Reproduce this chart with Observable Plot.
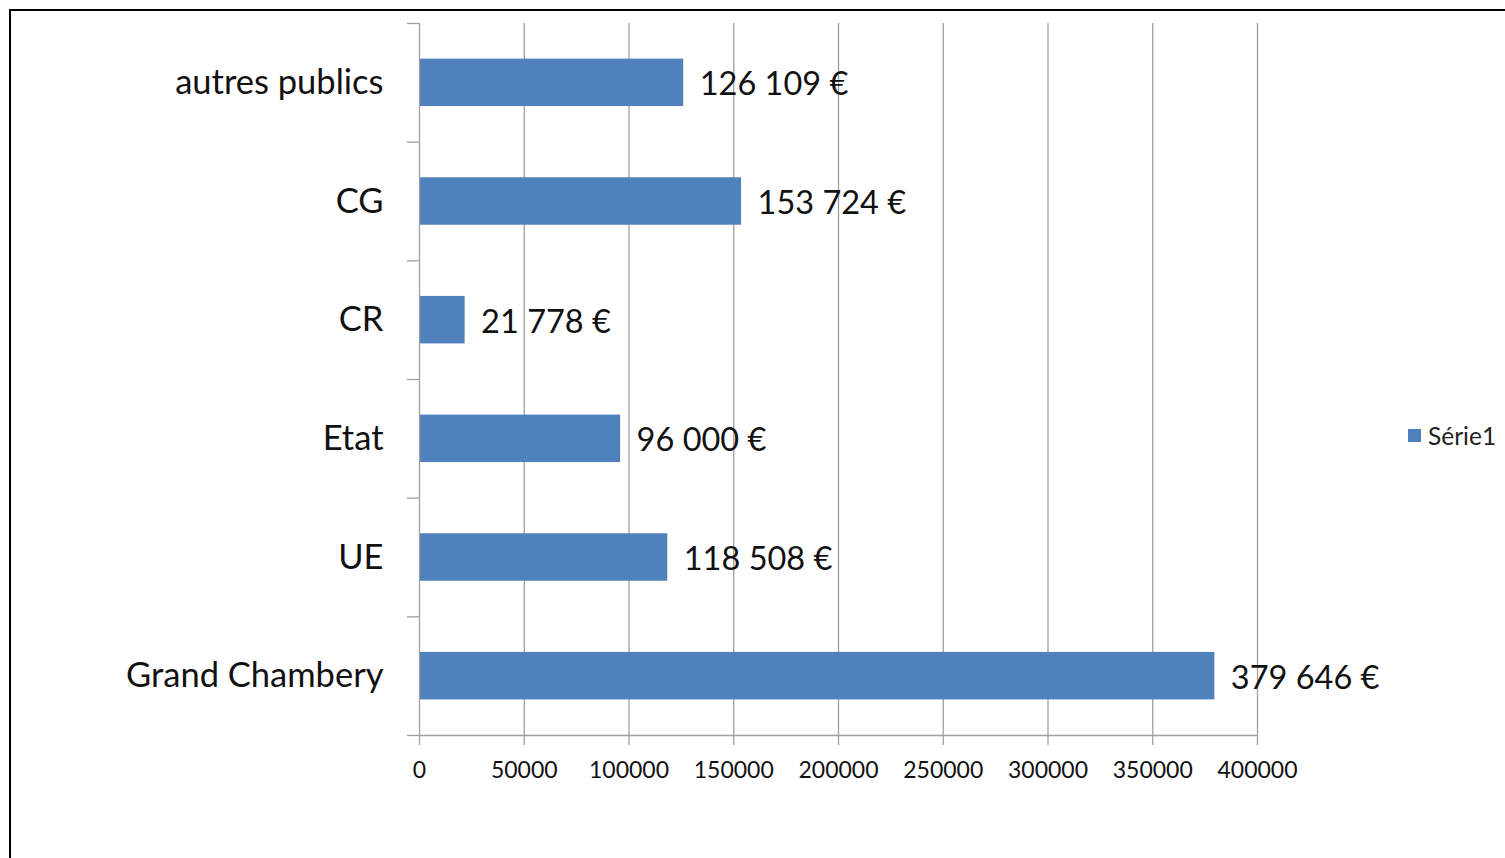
<!DOCTYPE html>
<html>
<head>
<meta charset="utf-8">
<script src="https://cdn.jsdelivr.net/npm/d3@7"></script>
<script src="https://cdn.jsdelivr.net/npm/@observablehq/plot@0.6"></script>
<style>
  html, body { margin: 0; padding: 0; background: #fff; overflow: hidden; }
  #wrap { position: relative; width: 1505px; height: 858px; overflow: hidden; }
  #frame { position: absolute; left: 9px; top: 9px; width: 1520px; height: 880px; border: 2px solid #000; box-sizing: border-box; pointer-events: none; }
  #legend { position: absolute; left: 1408px; top: 421px; font-family: Lato, sans-serif; font-size: 24.5px; color: #222; display: flex; align-items: center; }
  #legend .sw { width: 13px; height: 13px; background: #4f81bd; margin-right: 7px; }
</style>
</head>
<body>
<div id="wrap">
  <div id="chart"></div>
  <div id="frame"></div>
  <div id="legend"><span class="sw"></span><span id="legendText"></span></div>
</div>
<script>
const categories = ["autres publics", "CG", "CR", "Etat", "UE", "Grand Chambery"];
const values = [126109, 153724, 21778, 96000, 118508, 379646];
const xTicks = [0, 50000, 100000, 150000, 200000, 250000, 300000, 350000, 400000];
const seriesName = "Série1";

document.getElementById("legendText").textContent = seriesName;

const data = categories.map((c, i) => ({category: c, index: i, value: values[i]}));
const boundaries = d3.range(categories.length + 1);
const euro = v => d3.format(",")(v).replace(/,/g, " ") + " €";
const grey = "#a0a0a0";
const font = "Lato, sans-serif";

const chart = Plot.plot({
  width: 1505,
  height: 858,
  marginLeft: 419,
  marginRight: 248,
  marginTop: 23,
  marginBottom: 123,
  style: {fontFamily: font, background: "transparent", color: "#111"},
  x: {domain: [0, 400000], ticks: xTicks},
  y: {domain: [0, categories.length], reverse: true},
  marks: [
    Plot.ruleX(xTicks.slice(1), {stroke: grey, strokeWidth: 1.3, strokeOpacity: 1}),
    Plot.rectX(data, {x1: 0, x2: "value", y1: d => d.index + 0.3, y2: d => d.index + 0.7, fill: "#4f81bd"}),
    Plot.ruleX([0], {stroke: grey, strokeWidth: 1.3}),
    Plot.ruleY([categories.length], {stroke: grey, strokeWidth: 1.3}),
    Plot.axisX({ticks: xTicks, tickSize: 10, tickPadding: 16, tickFormat: d => String(d), fontSize: 23, stroke: grey, strokeWidth: 1.3, label: null}),
    Plot.axisY({ticks: boundaries, tickSize: 12, tickFormat: () => "", stroke: grey, strokeWidth: 1.3, label: null}),
    Plot.text(data, {x: 0, y: d => d.index + 0.5, text: "category", textAnchor: "end", dx: -36, dy: 0, fontSize: 34.5, fill: "#111"}),
    Plot.text(data, {x: "value", y: d => d.index + 0.5, text: d => euro(d.value), textAnchor: "start", dx: 16, dy: 2, fontSize: 32.5, fill: "#111"})
  ]
});
document.getElementById("chart").appendChild(chart);
</script>
</body>
</html>
